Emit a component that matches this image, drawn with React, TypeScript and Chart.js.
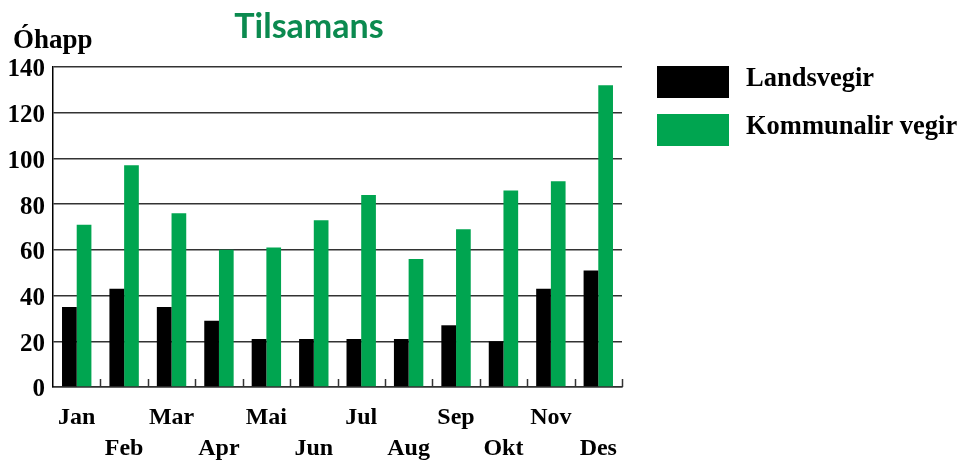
import React, { useEffect, useRef } from "react";
import { Chart, registerables } from "chart.js";

Chart.register(...registerables);

const months = ["Jan", "Feb", "Mar", "Apr", "Mai", "Jun", "Jul", "Aug", "Sep", "Okt", "Nov", "Des"];
const landsvegir = [35, 43, 35, 29, 21, 21, 21, 21, 27, 20, 43, 51];
const kommunalir = [71, 97, 76, 60, 61, 73, 84, 56, 69, 86, 90, 132];
const seriesNames = ["Landsvegir", "Kommunalir vegir"];
const seriesColors = ["#000000", "#00a550"];
const titleText = "Tilsamans";
const yAxisTitle = "Óhapp";
const yMin = 0;
const yMax = 140;
const yStep = 20;

const SERIF = "'Liberation Serif', 'DejaVu Serif', serif";

const decorPlugin = {
  id: "decor",
  afterDraw(chart: any) {
    const { ctx, chartArea } = chart;
    const xs = chart.scales.x;
    ctx.save();
    // inward ticks at category boundaries
    ctx.strokeStyle = "#333";
    ctx.lineWidth = 1.5;
    const n = chart.data.labels.length;
    for (let i = 1; i <= n; i++) {
      const x = Math.round(xs.getPixelForValue(i - 0.5)) + 0.5;
      ctx.beginPath();
      ctx.moveTo(x, chartArea.bottom);
      ctx.lineTo(x, chartArea.bottom - 8);
      ctx.stroke();
    }
    // title
    ctx.fillStyle = "#0b8a4f";
    ctx.font = "bold 34px Lato, 'Open Sans', sans-serif";
    ctx.textAlign = "center";
    ctx.textBaseline = "alphabetic";
    ctx.fillText(titleText, 309, 38);
    // y axis title
    ctx.fillStyle = "#000";
    ctx.font = `bold 27px ${SERIF}`;
    ctx.textAlign = "left";
    ctx.fillText(yAxisTitle, 13, 48);
    // legend
    const lx = chartArea.right + 35;
    chart.data.datasets.forEach((ds: any, i: number) => {
      const top = 66 + i * 48;
      ctx.fillStyle = ds.backgroundColor;
      ctx.fillRect(lx, top, 72, 32);
      ctx.fillStyle = "#000";
      ctx.font = `bold 26.5px ${SERIF}`;
      ctx.textAlign = "left";
      ctx.textBaseline = "alphabetic";
      ctx.fillText(ds.label, lx + 89, top + 20);
    });
    ctx.restore();
  },
};

export default function App() {
  const ref = useRef<HTMLCanvasElement>(null);
  useEffect(() => {
    document.body.style.margin = "0";
    const labels = months.map((m, i) => (i % 2 === 0 ? [m, ""] : ["", m]));
    const chart = new Chart(ref.current!, {
      type: "bar",
      data: {
        labels,
        datasets: [
          { label: seriesNames[0], data: landsvegir, backgroundColor: seriesColors[0] },
          { label: seriesNames[1], data: kommunalir, backgroundColor: seriesColors[1] },
        ],
      },
      options: {
        animation: false,
        responsive: false,
        maintainAspectRatio: false,
        layout: { padding: { top: 67, right: 340, left: 0, bottom: 0 } },
        datasets: { bar: { categoryPercentage: 0.62, barPercentage: 1 } },
        plugins: { legend: { display: false }, title: { display: false }, tooltip: { enabled: false } },
        scales: {
          x: {
            grid: { display: false, drawTicks: false },
            border: { display: true, color: "#333", width: 1.5 },
            ticks: {
              color: "#000",
              padding: 15,
              maxRotation: 0,
              autoSkip: false,
              font: { family: SERIF, size: 24, weight: "bold", lineHeight: 1.3 },
            },
            afterFit(scale: any) {
              scale.height = 79;
            },
          },
          y: {
            min: yMin,
            max: yMax,
            ticks: {
              stepSize: yStep,
              color: "#000",
              padding: 8,
              labelOffset: 3,
              font: { family: SERIF, size: 25, weight: "bold" },
            },
            grid: { color: "#333", lineWidth: 1.5, drawTicks: false },
            border: { display: true, color: "#000", width: 1.5 },
            afterFit(scale: any) {
              scale.width = 53;
            },
          },
        },
      },
      plugins: [decorPlugin],
    });
    return () => chart.destroy();
  }, []);
  return (
    <div style={{ width: 962, height: 466 }}>
      <canvas ref={ref} width={962} height={466} style={{ width: 962, height: 466, display: "block" }} />
    </div>
  );
}
